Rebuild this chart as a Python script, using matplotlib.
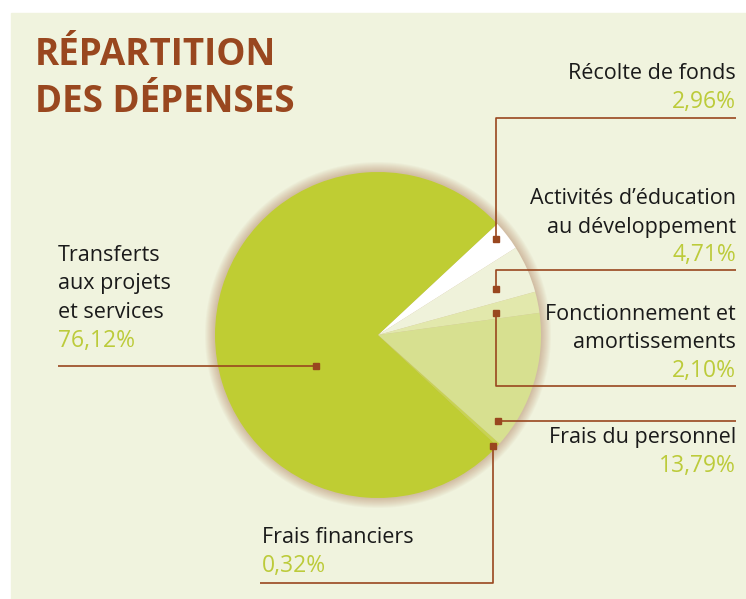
import matplotlib
matplotlib.use("Agg")
import matplotlib.pyplot as plt
from matplotlib.patches import Circle, Rectangle

# slices, clockwise from the top-right
labels = ["Récolte de fonds", "Activités d’éducation\nau développement",
          "Fonctionnement et\namortissements", "Frais du personnel",
          "Frais financiers", "Transferts\naux projets\net services"]
values = [2.96, 4.71, 2.10, 13.79, 0.32, 76.12]
colors = ["#FFFFFF", "#EFF2DA", "#E2E8AC", "#D7E090", "#C8D452", "#BFCD33"]

bg = "#F0F3DE"
brown = "#99471F"
green = "#BCCB3A"

fig = plt.figure(figsize=(7.46, 5.99), dpi=100)
ax = fig.add_axes([0, 0, 1, 1])
fig.patch.set_facecolor("white")
ax.add_patch(Rectangle((11, 13), 746, 600, color=bg, zorder=0))

cx, cy, r = 378, 335, 163

# soft brown glow around the pie
for i in range(10, 0, -1):
    ax.add_patch(Circle((cx, cy), r + i, color="#A86A45", alpha=0.045, lw=0, zorder=1))

# y axis is inverted, so counterclockwise in data = clockwise on screen
ax.pie(values, colors=colors, center=(cx, cy), radius=r, startangle=-43,
       counterclock=True, frame=True,
       wedgeprops=dict(linewidth=0, zorder=2))
ax.set_xlim(0, 746)
ax.set_ylim(599, 0)
ax.set_aspect("equal")
ax.axis("off")

pct = [("%.2f" % v).replace(".", ",") + "%" for v in values]

fam = ["Open Sans", "DejaVu Sans"]
fs = 15.5
ax.text(35, 65, "RÉPARTITION", fontsize=26.5, fontweight="bold", color=brown,
        family=fam, va="baseline")
ax.text(35, 112, "DES DÉPENSES", fontsize=26.5, fontweight="bold", color=brown,
        family=fam, va="baseline")

lh = 28.5
def label(x, y, text, p, ha):
    lines = text.split("\n")
    for k, ln in enumerate(lines):
        ax.text(x, y + k * lh, ln, fontsize=fs, color="#1A1A1A", family=fam,
                ha=ha, va="baseline")
    ax.text(x, y + len(lines) * lh + 0.5, p, fontsize=16.5, color=green, family=fam,
            ha=ha, va="baseline")

label(736, 79, labels[0], pct[0], "right")
label(736, 204, labels[1], pct[1], "right")
label(736, 320, labels[2], pct[2], "right")
label(736, 443, labels[3], pct[3], "right")
label(262, 543, labels[4], pct[4], "left")
label(58, 261, labels[5], pct[5], "left")

# leader lines
leaders = [
    ([496, 496, 736], [239, 118, 118]),
    ([496, 496, 736], [289, 270, 270]),
    ([496, 496, 736], [313, 386, 386]),
    ([498, 736], [421, 421]),
    ([493, 493, 260], [446, 583, 583]),
    ([316, 58], [366, 366]),
]
for xs, ys in leaders:
    ax.plot(xs, ys, color=brown, lw=1.2, zorder=4, solid_capstyle="butt")
    ax.plot(xs[0], ys[0], marker="s", ms=5, color=brown, mec=brown, zorder=5)

fig.savefig("out.png", dpi=100, facecolor="white")
